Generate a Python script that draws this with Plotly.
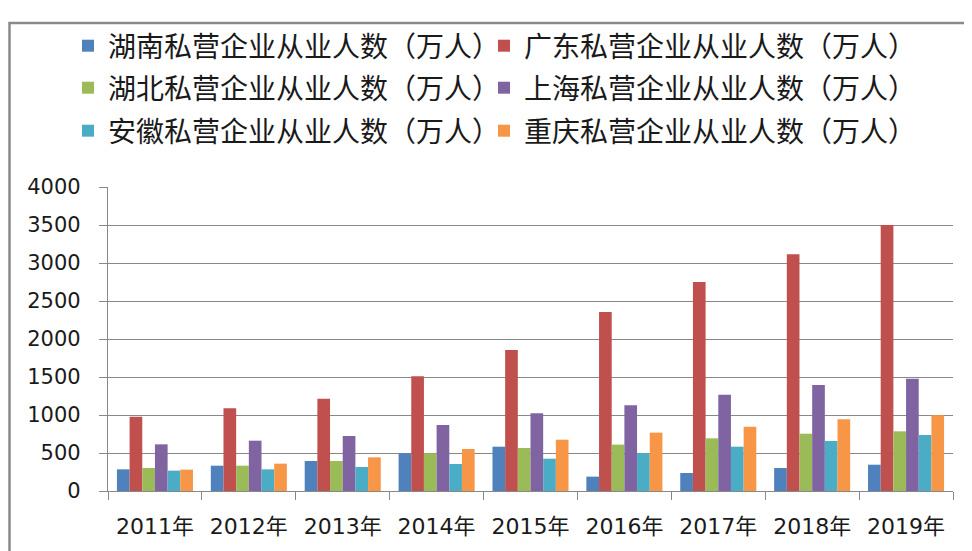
import plotly.graph_objects as go

years = ["2011年", "2012年", "2013年", "2014年", "2015年", "2016年", "2017年", "2018年", "2019年"]

hunan = [285, 333, 395, 496, 583, 189, 237, 303, 346]
guangdong = [978, 1088, 1215, 1509, 1855, 2355, 2750, 3114, 3500]
hubei = [303, 333, 395, 496, 566, 610, 693, 754, 785]
shanghai = [614, 662, 724, 868, 1022, 1127, 1268, 1395, 1478]
anhui = [268, 285, 316, 355, 425, 496, 583, 658, 737]
chongqing = [281, 360, 443, 553, 675, 768, 846, 943, 996]

series_names = [
    "湖南私营企业从业人数（万人）",
    "广东私营企业从业人数（万人）",
    "湖北私营企业从业人数（万人）",
    "上海私营企业从业人数（万人）",
    "安徽私营企业从业人数（万人）",
    "重庆私营企业从业人数（万人）",
]
series_values = [hunan, guangdong, hubei, shanghai, anhui, chongqing]
colors = ["#4F81BD", "#C0504D", "#9BBB59", "#8064A2", "#4BACC6", "#F79646"]
legend_ids = ["legend", "legend", "legend2", "legend2", "legend3", "legend3"]

y_ticks = [0, 500, 1000, 1500, 2000, 2500, 3000, 3500, 4000]

# page body has an 8px margin; figure coordinates = screen coordinates - 8
OFF = 8
W, H = 972 - OFF, 551 - OFF
L, T = 108 - OFF, 187 - OFF
R = W - (953 - OFF)
B = H - (491 - OFF)
PW = W - L - R
PH = H - T - B


def px_x(p):
    return (p - OFF - L) / PW


def px_y(p):
    return (H - B - (p - OFF)) / PH


fig = go.Figure()
for name, vals, col, lg in zip(series_names, series_values, colors, legend_ids):
    fig.add_trace(go.Bar(x=years, y=vals, name=name, marker_color=col,
                         marker_line_width=0, legend=lg))

legend_font = dict(family="Noto Sans CJK SC", size=28, color="#1a1a1a")
common_legend = dict(orientation="h", xanchor="left", yanchor="middle",
                     x=px_x(68), entrywidth=371, entrywidthmode="pixels",
                     font=legend_font, bgcolor="rgba(0,0,0,0)", itemwidth=30)

fig.update_layout(
    width=W, height=H,
    margin=dict(l=L, r=R, t=T, b=B, autoexpand=False),
    paper_bgcolor="white", plot_bgcolor="white",
    barmode="group", bargap=0.19, bargroupgap=0,
    legend=dict(common_legend, y=px_y(46)),
    legend2=dict(common_legend, y=px_y(88)),
    legend3=dict(common_legend, y=px_y(131)),
    font=dict(family="DejaVu Sans, Noto Sans CJK SC", color="#1a1a1a"),
)

fig.update_yaxes(range=[0, 4000], tickvals=y_ticks, ticktext=[str(v) for v in y_ticks],
                 showgrid=True, gridcolor="#888888", gridwidth=1.3,
                 showline=True, linecolor="#888888", linewidth=1.3,
                 ticks="outside", ticklen=8, tickcolor="#888888", tickwidth=1.3,
                 ticklabelstandoff=14, tickfont=dict(size=21, family="DejaVu Sans"),
                 zeroline=False)
fig.update_xaxes(showgrid=False, showline=True, linecolor="#888888", linewidth=1.3,
                 ticks="outside", tickson="boundaries", ticklen=8, tickcolor="#888888",
                 tickwidth=1.3, ticklabelstandoff=15,
                 tickfont=dict(size=22, family="DejaVu Sans, Noto Sans CJK SC"))

fig.add_shape(type="rect", xref="paper", yref="paper",
              x0=px_x(9.5), x1=px_x(990), y0=px_y(570), y1=px_y(23),
              line=dict(color="#8a8a8a", width=2.5), fillcolor="rgba(0,0,0,0)",
              layer="below")

fig.write_html("out.html")
